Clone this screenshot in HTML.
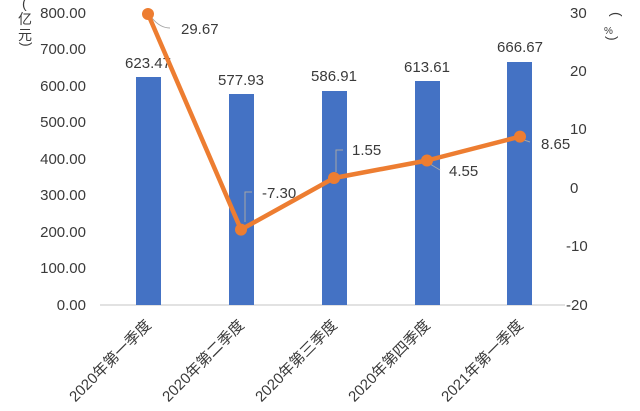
<!DOCTYPE html>
<html><head><meta charset="utf-8"><style>
html,body{margin:0;padding:0;background:#fff;}
svg text{font-family:"Liberation Sans","Noto Sans CJK SC",sans-serif;fill:#3a3a3a;}
</style></head><body>
<svg width="640" height="406" viewBox="0 0 640 406" xmlns="http://www.w3.org/2000/svg">
<line x1="100" y1="305" x2="565" y2="305" stroke="#d9d9d9" stroke-width="1.5"/>
<g fill="#4472C4">
<rect x="136" y="77" width="25" height="228"/>
<rect x="229" y="94" width="25" height="211"/>
<rect x="322" y="91" width="25" height="214"/>
<rect x="415" y="81" width="25" height="224"/>
<rect x="507" y="62" width="25" height="243"/>
</g>
<g font-size="15" text-anchor="end">
<text x="86" y="18">800.00</text><text x="86" y="54">700.00</text>
<text x="86" y="91">600.00</text><text x="86" y="127">500.00</text>
<text x="86" y="164">400.00</text><text x="86" y="200">300.00</text>
<text x="86" y="237">200.00</text><text x="86" y="273">100.00</text>
<text x="86" y="310">0.00</text>
</g>
<g font-size="15" text-anchor="start">
<text x="570" y="18">30</text><text x="570" y="76">20</text>
<text x="570" y="134">10</text><text x="570" y="193">0</text>
<text x="566" y="251">-10</text><text x="566" y="310">-20</text>
</g>
<g font-size="14">
<text x="22" y="8">(</text>
<text x="18" y="24">亿</text><text x="18" y="40">元</text>
<text x="22" y="50" transform="rotate(90 26 46)">)</text>
<text x="604" y="12" transform="rotate(90 608 16)">(</text>
<text x="604" y="34" font-size="10">%</text>
<text x="604" y="40" transform="rotate(90 608 40)">)</text>
</g>
<g font-size="15" text-anchor="middle">
<text x="148" y="68">623.47</text><text x="241" y="85">577.93</text>
<text x="334" y="81">586.91</text><text x="427" y="72">613.61</text>
<text x="520" y="52">666.67</text>
</g>
<g stroke="#a6a6a6" fill="none" stroke-width="1">
<path d="M152 18 Q160 28 170 28"/>
<path d="M245 222 L245 192 L252 192"/>
<path d="M336 172 L336 150 L343 150"/>
<path d="M430 164 L440 170"/>
<path d="M524 140 L530 142"/>
</g>
<polyline points="148,14 241,229.6 334,178 427,160.5 520,136.6" fill="none" stroke="#ED7D31" stroke-width="4.5" stroke-linejoin="round"/>
<g fill="#ED7D31">
<circle cx="148" cy="14" r="6"/><circle cx="241" cy="229.6" r="6"/>
<circle cx="334" cy="178" r="6"/><circle cx="427" cy="160.5" r="6"/>
<circle cx="520" cy="136.6" r="6"/>
</g>
<g font-size="15">
<text x="181" y="34">29.67</text><text x="262" y="198">-7.30</text>
<text x="352" y="155">1.55</text><text x="449" y="176">4.55</text>
<text x="541" y="149">8.65</text>
</g>
<g font-size="15" text-anchor="end">
<text transform="translate(152 326) rotate(-45)">2020年第一季度</text>
<text transform="translate(245 326) rotate(-45)">2020年第二季度</text>
<text transform="translate(338 326) rotate(-45)">2020年第三季度</text>
<text transform="translate(431 326) rotate(-45)">2020年第四季度</text>
<text transform="translate(524 326) rotate(-45)">2021年第一季度</text>
</g>
</svg>
</body></html>
